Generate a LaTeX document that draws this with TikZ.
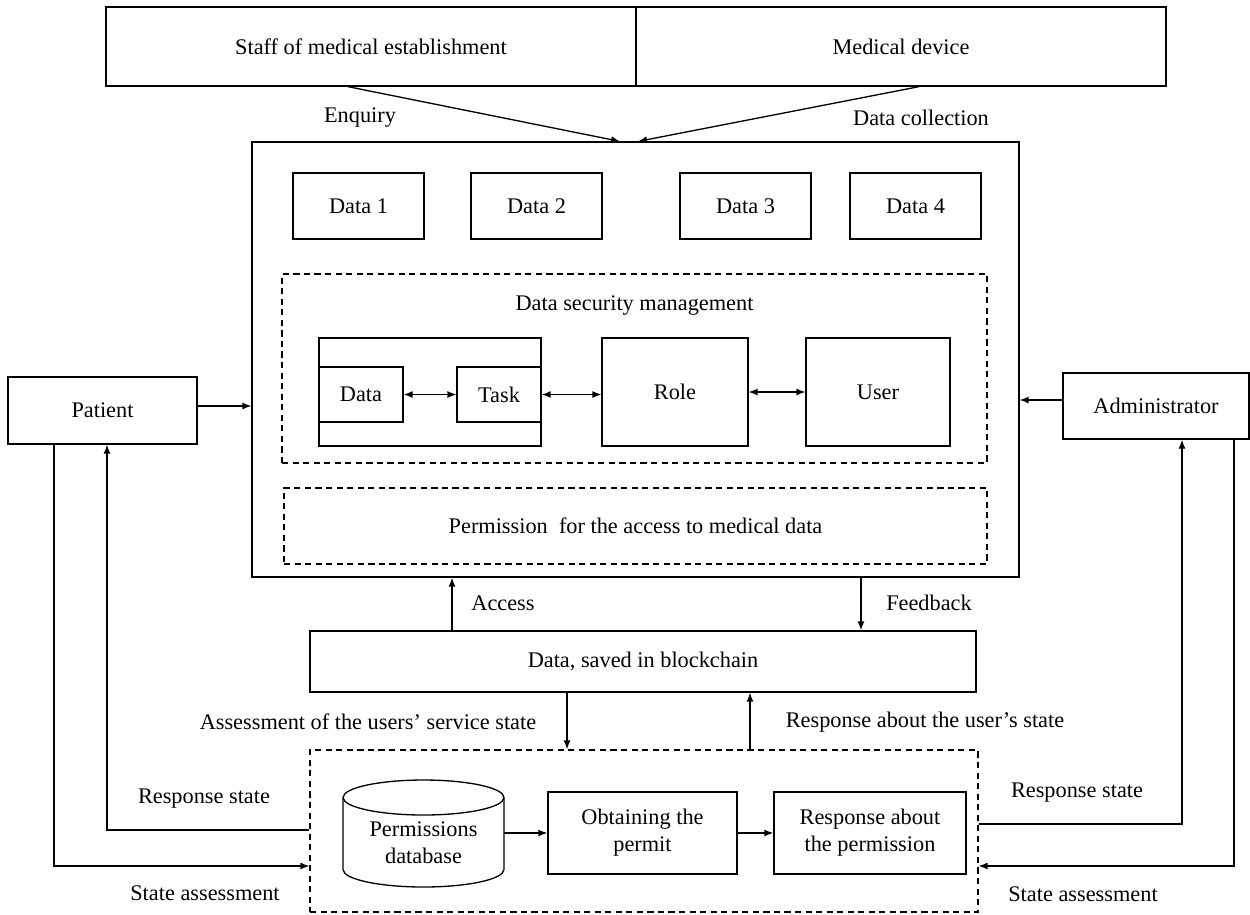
\documentclass[tikz,border=0pt]{standalone}
\usepackage{fontspec}
\setmainfont{Liberation Serif}
\usepackage{tikz}
\usetikzlibrary{arrows.meta,calc,positioning}

\begin{document}
\begin{tikzpicture}[x=0.02cm,y=-0.02cm,
    font=\fontsize{12.7}{15.3}\selectfont,
    box/.style={draw, line width=0.75pt, inner sep=0pt, align=center},
    dbox/.style={draw, line width=0.7pt, dash pattern=on 3.5pt off 2.5pt, inner sep=0pt},
    databox/.style={box, minimum width=2.62cm, minimum height=1.32cm},
    arr/.style={line width=0.75pt, -{Latex[length=1.8mm,width=1.4mm]}},
    darr/.style={line width=0.75pt, {Latex[length=1.8mm,width=1.4mm]}-{Latex[length=1.8mm,width=1.4mm]}},
    lbl/.style={inner sep=1pt}]
        \useasboundingbox (0,0) rectangle (1250,914);
        % sources on top
        \node[box, minimum width=10.6cm, minimum height=1.58cm] (staff) at (371,46.5) {Staff of medical establishment};
        \node[box, minimum width=10.6cm, minimum height=1.58cm] (device) at (901,46.5) {Medical device};
        \node[lbl] (enq) at (360,118) {Enquiry};
        \node[lbl] (coll) at (921,118) {Data collection};
        % main storage
        \node[box, minimum width=15.34cm, minimum height=8.7cm] (main) at (635.5,359.5) {};
        \node[databox] (d1) at (358.5,206) {Data 1};
        \node[databox] (d2) at (536.5,206) {Data 2};
        \node[databox] (d3) at (745.5,206) {Data 3};
        \node[databox] (d4) at (915.5,206) {Data 4};
        % data security management
        \node[dbox, minimum width=14.1cm, minimum height=3.78cm] (sec) at (634.5,368.5) {};
        \node[lbl] (sectitle) at (634.5,306) {Data security management};
        \node[box, minimum width=4.44cm, minimum height=2.16cm] (dt) at (430,392) {};
        \node[box, minimum width=1.68cm, minimum height=1.1cm] (data) at (361,394.5) {Data};
        \node[box, minimum width=1.68cm, minimum height=1.1cm] (task) at (499,394.5) {Task};
        \node[box, minimum width=2.92cm, minimum height=2.16cm] (role) at (675,392) {Role};
        \node[box, minimum width=2.88cm, minimum height=2.16cm] (user) at (878,392) {User};
        \draw[darr] (data.east) -- (task.west);
        \draw[darr] (task.east) -- (task.east -| role.west);
        \draw[darr] (role.east) -- (role.east -| user.west);
        \node[dbox, minimum width=14.06cm, minimum height=1.52cm] (perm) at (635.5,526) {Permission\ \ for the access to medical data};
        % patient and administrator
        \node[box, minimum width=3.78cm, minimum height=1.34cm] (patient) at (102.5,410.5) {Patient};
        \node[box, minimum width=3.72cm, minimum height=1.32cm] (admin) at (1156,406) {Administrator};
        % blockchain
        \node[box, minimum width=13.32cm, minimum height=1.22cm] (chain) at (643,661.5) {Data, saved in blockchain};
        \node[lbl] (acc) at (503,603) {Access};
        \node[lbl] (feed) at (929,603) {Feedback};
        \node[lbl] (assess) at (368,722) {Assessment of the users’ service state};
        \node[lbl] (resp) at (925,722) {Response about the user’s state};
        % permission check
        \node[dbox, minimum width=13.36cm, minimum height=3.24cm] (state) at (644,831) {};
        \draw[line width=0.75pt] (343,797.5) -- (343,869.5) arc[start angle=180, end angle=360, x radius=1.61cm, y radius=0.35cm] -- (504,797.5);
        \draw[line width=0.75pt] (423.5,797.5) ellipse[x radius=1.61cm, y radius=0.35cm];
        \node[align=center, inner sep=0pt, minimum width=3.22cm] (db) at (423.5,843) {Permissions\\database};
        \node[box, minimum width=3.78cm, minimum height=1.64cm] (obtain) at (642.5,833) {Obtaining the\\permit};
        \node[box, minimum width=3.84cm, minimum height=1.64cm] (answer) at (870,833) {Response about\\the permission};
        \draw[arr] (db.east |- obtain.west) -- (obtain.west);
        \draw[arr] (obtain.east) -- (answer.west);
        \node[lbl] (lresp) at (204,799) {Response state};
        \node[lbl] (lstate) at (205,893) {State assessment};
        \node[lbl] (rresp) at (1077,793) {Response state};
        \node[lbl] (rstate) at (1083,894) {State assessment};
        % connectors
        \draw[arr] ([xshift=-0.46cm]staff.south) -- ([xshift=-0.31cm]main.north);
        \draw[arr] ([xshift=0.36cm]device.south) -- ([xshift=0.05cm]main.north);
        \draw[arr] ([yshift=0.09cm]patient.east) -- ([yshift=0.09cm]patient.east -| main.west);
        \draw[arr] ([yshift=0.12cm]admin.west) -- ([yshift=0.12cm]admin.west -| main.east);
        \draw[arr] ([xshift=-3.82cm]chain.north) coordinate (a1) -- (a1 |- main.south);
        \draw[arr] ([xshift=4.51cm]main.south) coordinate (f1) -- (f1 |- chain.north);
        \draw[arr] ([xshift=-1.52cm]chain.south) coordinate (s1) -- (s1 |- state.north);
        \draw[arr] ([xshift=2.12cm]state.north) coordinate (r1) -- (r1 |- chain.south);
        \draw[arr] ([xshift=-0.97cm]patient.south) |- ([yshift=-0.7cm]state.west);
        \draw[arr] ([yshift=0.02cm]state.west) -| ([xshift=0.09cm]patient.south);
        \draw[arr] ([yshift=0.14cm]state.east) -| ([xshift=0.52cm]admin.south);
        \draw[arr] ([xshift=1.56cm]admin.south) |- ([yshift=-0.7cm]state.east);
\end{tikzpicture}
\end{document}
